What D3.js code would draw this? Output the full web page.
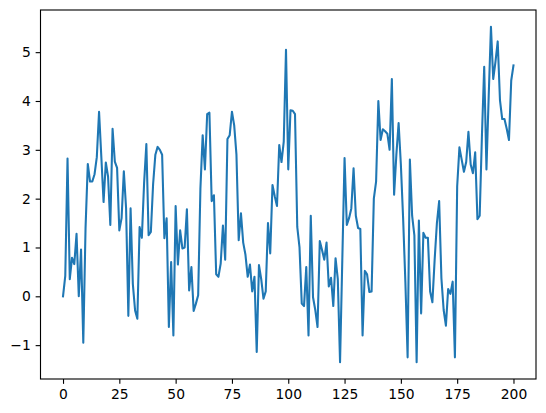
<!DOCTYPE html>
<html>
<head>
<meta charset="utf-8">
<script src="https://cdnjs.cloudflare.com/ajax/libs/d3/7.8.5/d3.min.js"></script>
<style>
  body { margin: 0; background: #fff; }
  text { font-family: "DejaVu Sans", sans-serif; }
</style>
</head>
<body>
<svg id="canvas" width="546" height="413"></svg>
<script>
// values, one per step 0..200
let seriesValues = [
  0.0, 0.42, 2.82, 0.35, 0.79, 0.66, 1.28, 0.0, 0.96, -0.95,
  1.4, 2.71, 2.35, 2.35, 2.5, 2.85, 3.78, 2.86, 1.93, 2.74,
  2.45, 1.46, 3.43, 2.76, 2.63, 1.35, 1.6, 2.56, 1.8, -0.4,
  1.8, 0.25, -0.29, -0.46, 1.42, 1.2, 2.32, 3.12, 1.25, 1.32,
  2.3, 2.9, 3.06, 3.0, 2.9, 1.19, 1.6, -0.63, 0.7, -0.8,
  1.85, 0.65, 1.35, 0.98, 1.0, 1.78, 0.12, 0.6, -0.3, -0.15,
  0.02, 2.2, 3.3, 2.6, 3.73, 3.76, 1.95, 2.07, 0.45, 0.4,
  0.67, 1.45, 0.75, 3.22, 3.3, 3.78, 3.5, 2.9, 1.15, 1.7,
  1.1, 0.85, 0.4, 0.65, 0.1, 0.4, -1.14, 0.64, 0.35, -0.05,
  0.1, 1.5, 0.88, 2.28, 2.05, 1.85, 3.1, 2.75, 3.17, 5.05,
  2.6, 3.81, 3.8, 3.73, 1.42, 1.0, -0.15, -0.2, 0.6, -0.8,
  1.65, -0.02, -0.28, -0.63, 1.13, 0.95, 0.75, 1.1, 0.2, 0.38,
  -0.2, 0.78, 0.35, -1.35, 0.75, 2.83, 1.46, 1.6, 1.8, 2.62,
  1.65, 1.4, 1.38, -0.8, 0.52, 0.45, 0.09, 0.1, 2.0, 2.35,
  4.0, 3.2, 3.42, 3.38, 3.33, 3.0, 4.45, 2.08, 2.9, 3.55,
  2.7, 1.6, 0.3, -1.25, 2.8, 1.65, 1.25, -1.35, 1.55, -0.35,
  1.3, 1.2, 1.2, 0.1, -0.12, 0.75, 1.5, 1.95, 0.37, -0.28,
  -0.6, 0.15, 0.05, 0.3, -1.25, 2.25, 3.05, 2.8, 2.55, 2.75,
  3.37, 2.7, 2.52, 2.95, 1.58, 1.65, 3.3, 4.7, 2.6, 4.1,
  5.52, 4.45, 4.8, 5.22, 4.02, 3.63, 3.63, 3.43, 3.2, 4.42,
  4.73
]

let xTicks = [0, 25, 50, 75, 100, 125, 150, 175, 200]
let yTicks = [-1, 0, 1, 2, 3, 4, 5]

let canvas = d3.select('#canvas')

let plotLeft = 40.5, plotRight = 536, plotTop = 10, plotBottom = 379
let pt = 100 / 72 // matplotlib points -> pixels at dpi 100

let points = seriesValues.map((v, i) => ({x: i, y: v}))

// matplotlib style 5% margins on both axes
let pad = (ext) => {
    let m = (ext[1] - ext[0]) * 0.05
    return [ext[0] - m, ext[1] + m]
}

let xScale = d3.scaleLinear()
                .domain(pad(d3.extent(points, (d) => d.x)))
                .range([plotLeft, plotRight])

let yScale = d3.scaleLinear()
                .domain(pad(d3.extent(points, (d) => d.y)))
                .range([plotBottom, plotTop])

let line = d3.line()
                .x((d) => xScale(d.x))
                .y((d) => yScale(d.y))

// clip to the axes box
canvas.append('clipPath')
        .attr('id', 'plotclip')
        .append('rect')
        .attr('x', plotLeft)
        .attr('y', plotTop)
        .attr('width', plotRight - plotLeft)
        .attr('height', plotBottom - plotTop)

canvas.append('path')
        .datum(points)
        .attr('d', line)
        .attr('fill', 'none')
        .attr('stroke', '#1f77b4')
        .attr('stroke-width', 1.5 * pt)
        .attr('stroke-linejoin', 'round')
        .attr('stroke-linecap', 'square')
        .attr('clip-path', 'url(#plotclip)')

let xAxis = d3.axisBottom(xScale)
                .tickValues(xTicks)
                .tickFormat(d3.format('d'))
                .tickSize(3.5 * pt)
                .tickPadding(3.5 * pt)

let yAxis = d3.axisLeft(yScale)
                .tickValues(yTicks)
                .tickFormat(d3.format('d'))
                .tickSize(3.5 * pt)
                .tickPadding(3.5 * pt)

let gx = canvas.append('g')
                .attr('transform', 'translate(0,' + plotBottom + ')')
                .call(xAxis)

let gy = canvas.append('g')
                .attr('transform', 'translate(' + plotLeft + ',0)')
                .call(yAxis)

for (let g of [gx, gy]) {
    g.select('.domain').remove()
    g.selectAll('line').attr('stroke', '#000').attr('stroke-width', 0.8 * pt)
    g.selectAll('text')
        .attr('fill', '#000')
        .style('font-family', '"DejaVu Sans", sans-serif')
        .style('font-size', (10 * pt) + 'px')
}

// axes frame
canvas.append('rect')
        .attr('x', plotLeft)
        .attr('y', plotTop)
        .attr('width', plotRight - plotLeft)
        .attr('height', plotBottom - plotTop)
        .attr('fill', 'none')
        .attr('stroke', '#000')
        .attr('stroke-width', 0.8 * pt)
</script>
</body>
</html>
